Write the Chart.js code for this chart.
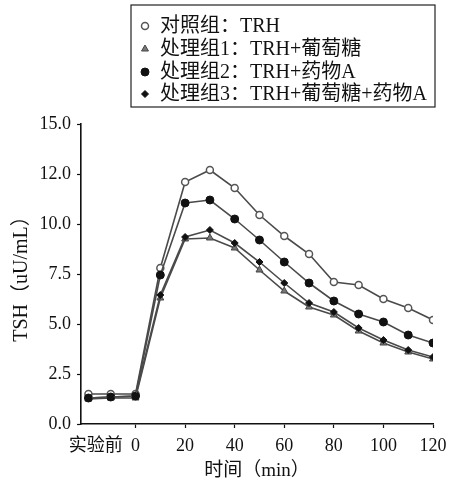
<!DOCTYPE html>
<html>
<head>
<meta charset="utf-8">
<script src="https://cdn.jsdelivr.net/npm/chart.js@4.4.1/dist/chart.umd.min.js"></script>
<style>
  html, body { margin: 0; padding: 0; background: #fff; }
  #wrap { position: relative; width: 469px; height: 499px; }
</style>
</head>
<body>
<div id="wrap"><canvas id="c" width="469" height="499"></canvas></div>
<script>
// ---- data ----
const timePoints = [-19, -10, 0, 10, 20, 30, 40, 50, 60, 70, 80, 90, 100, 110, 120];
const controlValues = [1.5, 1.5, 1.5, 7.8, 12.1, 12.7, 11.8, 10.45, 9.4, 8.5, 7.1, 6.95, 6.25, 5.8, 5.2];
const glucoseValues = [1.25, 1.3, 1.3, 6.3, 9.25, 9.3, 8.8, 7.7, 6.65, 5.85, 5.45, 4.65, 4.05, 3.6, 3.25];
const drugValues = [1.3, 1.35, 1.4, 7.45, 11.05, 11.2, 10.25, 9.2, 8.1, 7.05, 6.15, 5.5, 5.1, 4.45, 4.05];
const glucoseDrugValues = [1.3, 1.35, 1.4, 6.45, 9.35, 9.7, 9.05, 8.1, 7.05, 6.05, 5.6, 4.8, 4.2, 3.7, 3.35];
const seriesNames = ['对照组：TRH', '处理组1：TRH+葡萄糖', '处理组2：TRH+药物A', '处理组3：TRH+葡萄糖+药物A'];
const xTickValues = [-16, 0, 20, 40, 60, 80, 100, 120];
const xTickLabels = ['实验前', '0', '20', '40', '60', '80', '100', '120'];
const yTickValues = [0, 2.5, 5, 7.5, 10, 12.5, 15];
const yTickLabels = ['0.0', '2.5', '5.0', '7.5', '10.0', '12.0', '15.0'];
const xTitle = '时间（min）';
const yTitle = 'TSH（uU/mL）';

const FONT = "'Liberation Serif', 'Noto Sans CJK SC', serif";
const LINE = '#4a4a4a';

function toPoints(vals) { return timePoints.map((t, i) => ({ x: t, y: vals[i] })); }

const styles = [
  { pointStyle: 'circle', radius: 3.5, bg: '#ffffff', border: '#555', bw: 1.5 },
  { pointStyle: 'triangle', radius: 4, bg: '#777', border: '#444', bw: 1 },
  { pointStyle: 'circle', radius: 4, bg: '#111', border: '#111', bw: 1 },
  { pointStyle: 'rectRot', radius: 3.5, bg: '#111', border: '#111', bw: 1 }
];
const allValues = [controlValues, glucoseValues, drugValues, glucoseDrugValues];

const datasets = allValues.map((vals, i) => ({
  label: seriesNames[i],
  data: toPoints(vals),
  borderColor: LINE,
  borderWidth: 1.6,
  pointStyle: styles[i].pointStyle,
  pointRadius: styles[i].radius,
  pointBackgroundColor: styles[i].bg,
  pointBorderColor: styles[i].border,
  pointBorderWidth: styles[i].bw,
  tension: 0,
  fill: false
}));
// draw control last so its open markers sit on top
datasets.reverse();

const boxLegend = {
  id: 'boxLegend',
  afterDraw(chart) {
    const ctx = chart.ctx;
    ctx.save();
    ctx.strokeStyle = '#222';
    ctx.lineWidth = 1.2;
    ctx.strokeRect(131, 5, 304, 102);
    const rows = [26, 49, 72, 94];
    seriesNames.forEach((name, i) => {
      const s = styles[i];
      ctx.fillStyle = s.bg; ctx.strokeStyle = s.border; ctx.lineWidth = s.bw;
      Chart.helpers.drawPoint(ctx, {
        pointStyle: s.pointStyle, radius: s.radius, rotation: 0, borderWidth: s.bw
      }, 145, rows[i]);
      ctx.font = '20px ' + FONT;
      ctx.fillStyle = '#111';
      ctx.textBaseline = 'middle';
      ctx.textAlign = 'left';
      ctx.fillText(name, 160, rows[i] + 1);
    });
    ctx.restore();
  }
};

new Chart(document.getElementById('c'), {
  type: 'line',
  data: { datasets },
  options: {
    responsive: false,
    animation: false,
    devicePixelRatio: 1,
    layout: { padding: { left: 0, top: 124, right: 36, bottom: 0 } },
    plugins: { legend: { display: false }, tooltip: { enabled: false } },
    scales: {
      x: {
        type: 'linear',
        min: -22,
        max: 120,
        afterBuildTicks: (scale) => { scale.ticks = xTickValues.map(v => ({ value: v })); },
        afterFit: (scale) => { scale.height = 75; },
        ticks: {
          autoSkip: false,
          maxRotation: 0,
          padding: 7,
          color: '#111',
          font: { family: FONT, size: 18 },
          callback: (v) => { const i = xTickValues.indexOf(v); return i >= 0 ? xTickLabels[i] : ''; }
        },
        grid: {
          drawOnChartArea: false,
          tickLength: 4,
          tickWidth: 1.2,
          tickColor: (ctx) => (ctx.tick && ctx.tick.value === -16) ? 'rgba(0,0,0,0)' : '#111'
        },
        border: { display: true, color: '#111', width: 1.6 },
        title: {
          display: true, text: xTitle, color: '#111',
          font: { family: FONT, size: 19 },
          padding: { top: 0, bottom: 17 }
        }
      },
      y: {
        min: 0,
        max: 15,
        afterBuildTicks: (scale) => { scale.ticks = yTickValues.map(v => ({ value: v })); },
        afterFit: (scale) => { scale.width = 81; },
        ticks: {
          padding: 6,
          color: '#111',
          font: { family: FONT, size: 18 },
          callback: (v) => { const i = yTickValues.indexOf(v); return i >= 0 ? yTickLabels[i] : ''; }
        },
        grid: { drawOnChartArea: false, tickLength: 4, tickWidth: 1.2, tickColor: '#111' },
        border: { display: true, color: '#111', width: 1.6 },
        title: {
          display: true, text: yTitle, color: '#111',
          font: { family: FONT, size: 20 },
          padding: { top: 10, bottom: 0 }
        }
      }
    }
  },
  plugins: [boxLegend]
});
</script>
</body>
</html>
